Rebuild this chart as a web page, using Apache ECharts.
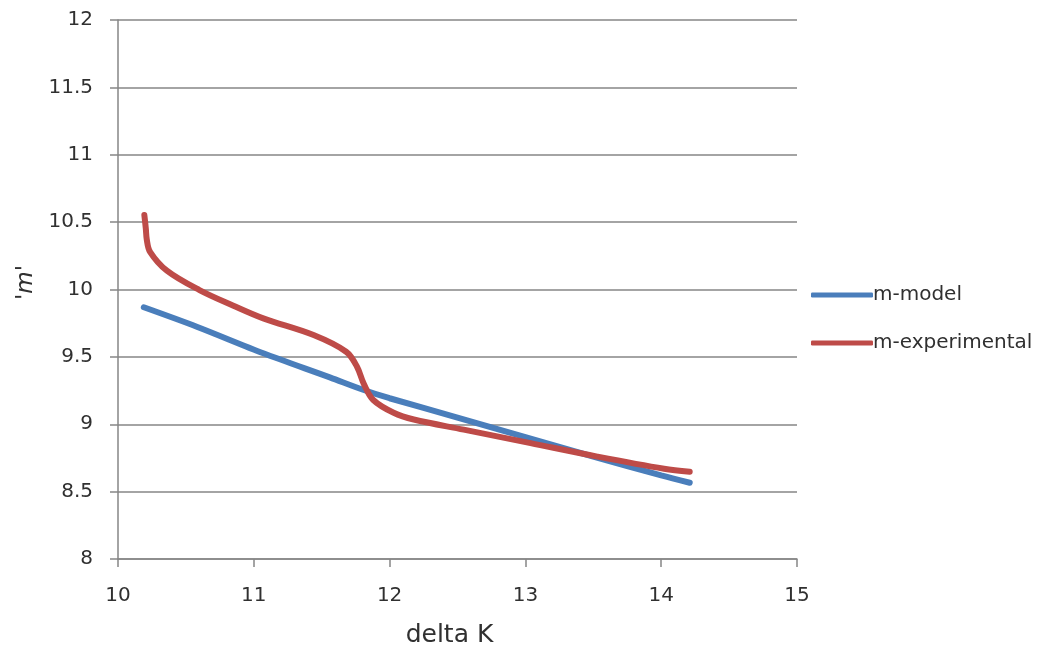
<!DOCTYPE html>
<html>
<head>
<meta charset="utf-8">
<script src="https://cdn.jsdelivr.net/npm/echarts@6/dist/echarts.min.js"></script>
<style>html,body{margin:0;padding:0;background:#fff}#c{width:1047px;height:652px}</style>
</head>
<body>
<div id="c"></div>
<script>
var seriesNames = ['m-model', 'm-experimental'];
var modelX = [10.19, 10.58, 11.07, 11.56, 11.81, 12.0, 12.5, 13.0, 13.5, 14.0, 14.21];
var modelY = [9.868, 9.724, 9.527, 9.348, 9.254, 9.193, 9.05, 8.905, 8.76, 8.62, 8.566];
var expX = [10.194, 10.205, 10.212, 10.236, 10.36, 10.60, 10.85, 11.07, 11.44, 11.68, 11.76, 11.81, 11.88, 12.03, 12.178, 12.546, 13.038, 13.53, 14.021, 14.21];
var expY = [10.553, 10.45, 10.37, 10.28, 10.14, 9.996, 9.88, 9.786, 9.662, 9.538, 9.427, 9.30, 9.18, 9.085, 9.035, 8.96, 8.86, 8.76, 8.67, 8.648];
var xTicks = [10, 11, 12, 13, 14, 15];
var yTicks = [8, 8.5, 9, 9.5, 10, 10.5, 11, 11.5, 12];

function pairs(xs, ys) { return xs.map(function (x, i) { return [x, ys[i]]; }); }

var font = 'DejaVu Sans';
var txt = '#303030';
var chart = echarts.init(document.getElementById('c'), null, { renderer: 'canvas' });
chart.setOption({
  animation: false,
  backgroundColor: '#fff',
  textStyle: { fontFamily: font },
  grid: { left: 118, right: 250, top: 20, bottom: 93, containLabel: false, outerBoundsMode: 'none' },
  legend: {
    orient: 'vertical',
    left: 806,
    top: 278,
    itemWidth: 62,
    itemHeight: 5,
    itemGap: 24,
    icon: 'roundRect',
    textStyle: { fontFamily: font, fontSize: 20, color: txt, lineHeight: 24, padding: [0, 0, 0, -5] },
    data: seriesNames
  },
  xAxis: {
    type: 'value',
    min: xTicks[0], max: xTicks[xTicks.length - 1], interval: 1,
    name: 'delta K',
    nameLocation: 'middle',
    nameGap: 64,
    nameTextStyle: { fontFamily: font, fontSize: 25, color: txt, padding: [0, 16, 0, 0] },
    axisLine: { show: true, lineStyle: { color: '#868686', width: 1.5 } },
    axisTick: { show: true, inside: false, length: 8, lineStyle: { color: '#868686', width: 1.5 } },
    axisLabel: { fontFamily: font, fontSize: 20, color: txt, margin: 27 },
    splitLine: { show: false }
  },
  yAxis: {
    type: 'value',
    min: yTicks[0], max: yTicks[yTicks.length - 1], interval: 0.5,
    name: "'{i|m}'",
    nameLocation: 'middle',
    nameRotate: 90,
    nameGap: 78,
    nameTextStyle: { fontFamily: font, fontSize: 23, color: txt, padding: [0, 0, 0, 14], rich: { i: { fontStyle: 'italic', fontFamily: font, fontSize: 23, color: txt } } },
    axisLine: { show: true, lineStyle: { color: '#868686', width: 1.5 } },
    axisTick: { show: true, inside: false, length: 8, lineStyle: { color: '#868686', width: 1.5 } },
    axisLabel: { fontFamily: font, fontSize: 20, color: txt, margin: 25 },
    splitLine: { show: true, lineStyle: { color: '#868686', width: 1.5 } }
  },
  series: [
    {
      name: seriesNames[0], type: 'line', data: pairs(modelX, modelY),
      smooth: 0.3, showSymbol: false, symbol: 'none',
      lineStyle: { color: '#4a7ebb', width: 6, cap: 'round' },
      itemStyle: { color: '#4a7ebb' }
    },
    {
      name: seriesNames[1], type: 'line', data: pairs(expX, expY),
      smooth: 0.35, showSymbol: false, symbol: 'none',
      lineStyle: { color: '#be4b48', width: 6, cap: 'round' },
      itemStyle: { color: '#be4b48' }
    }
  ]
});
</script>
</body>
</html>
